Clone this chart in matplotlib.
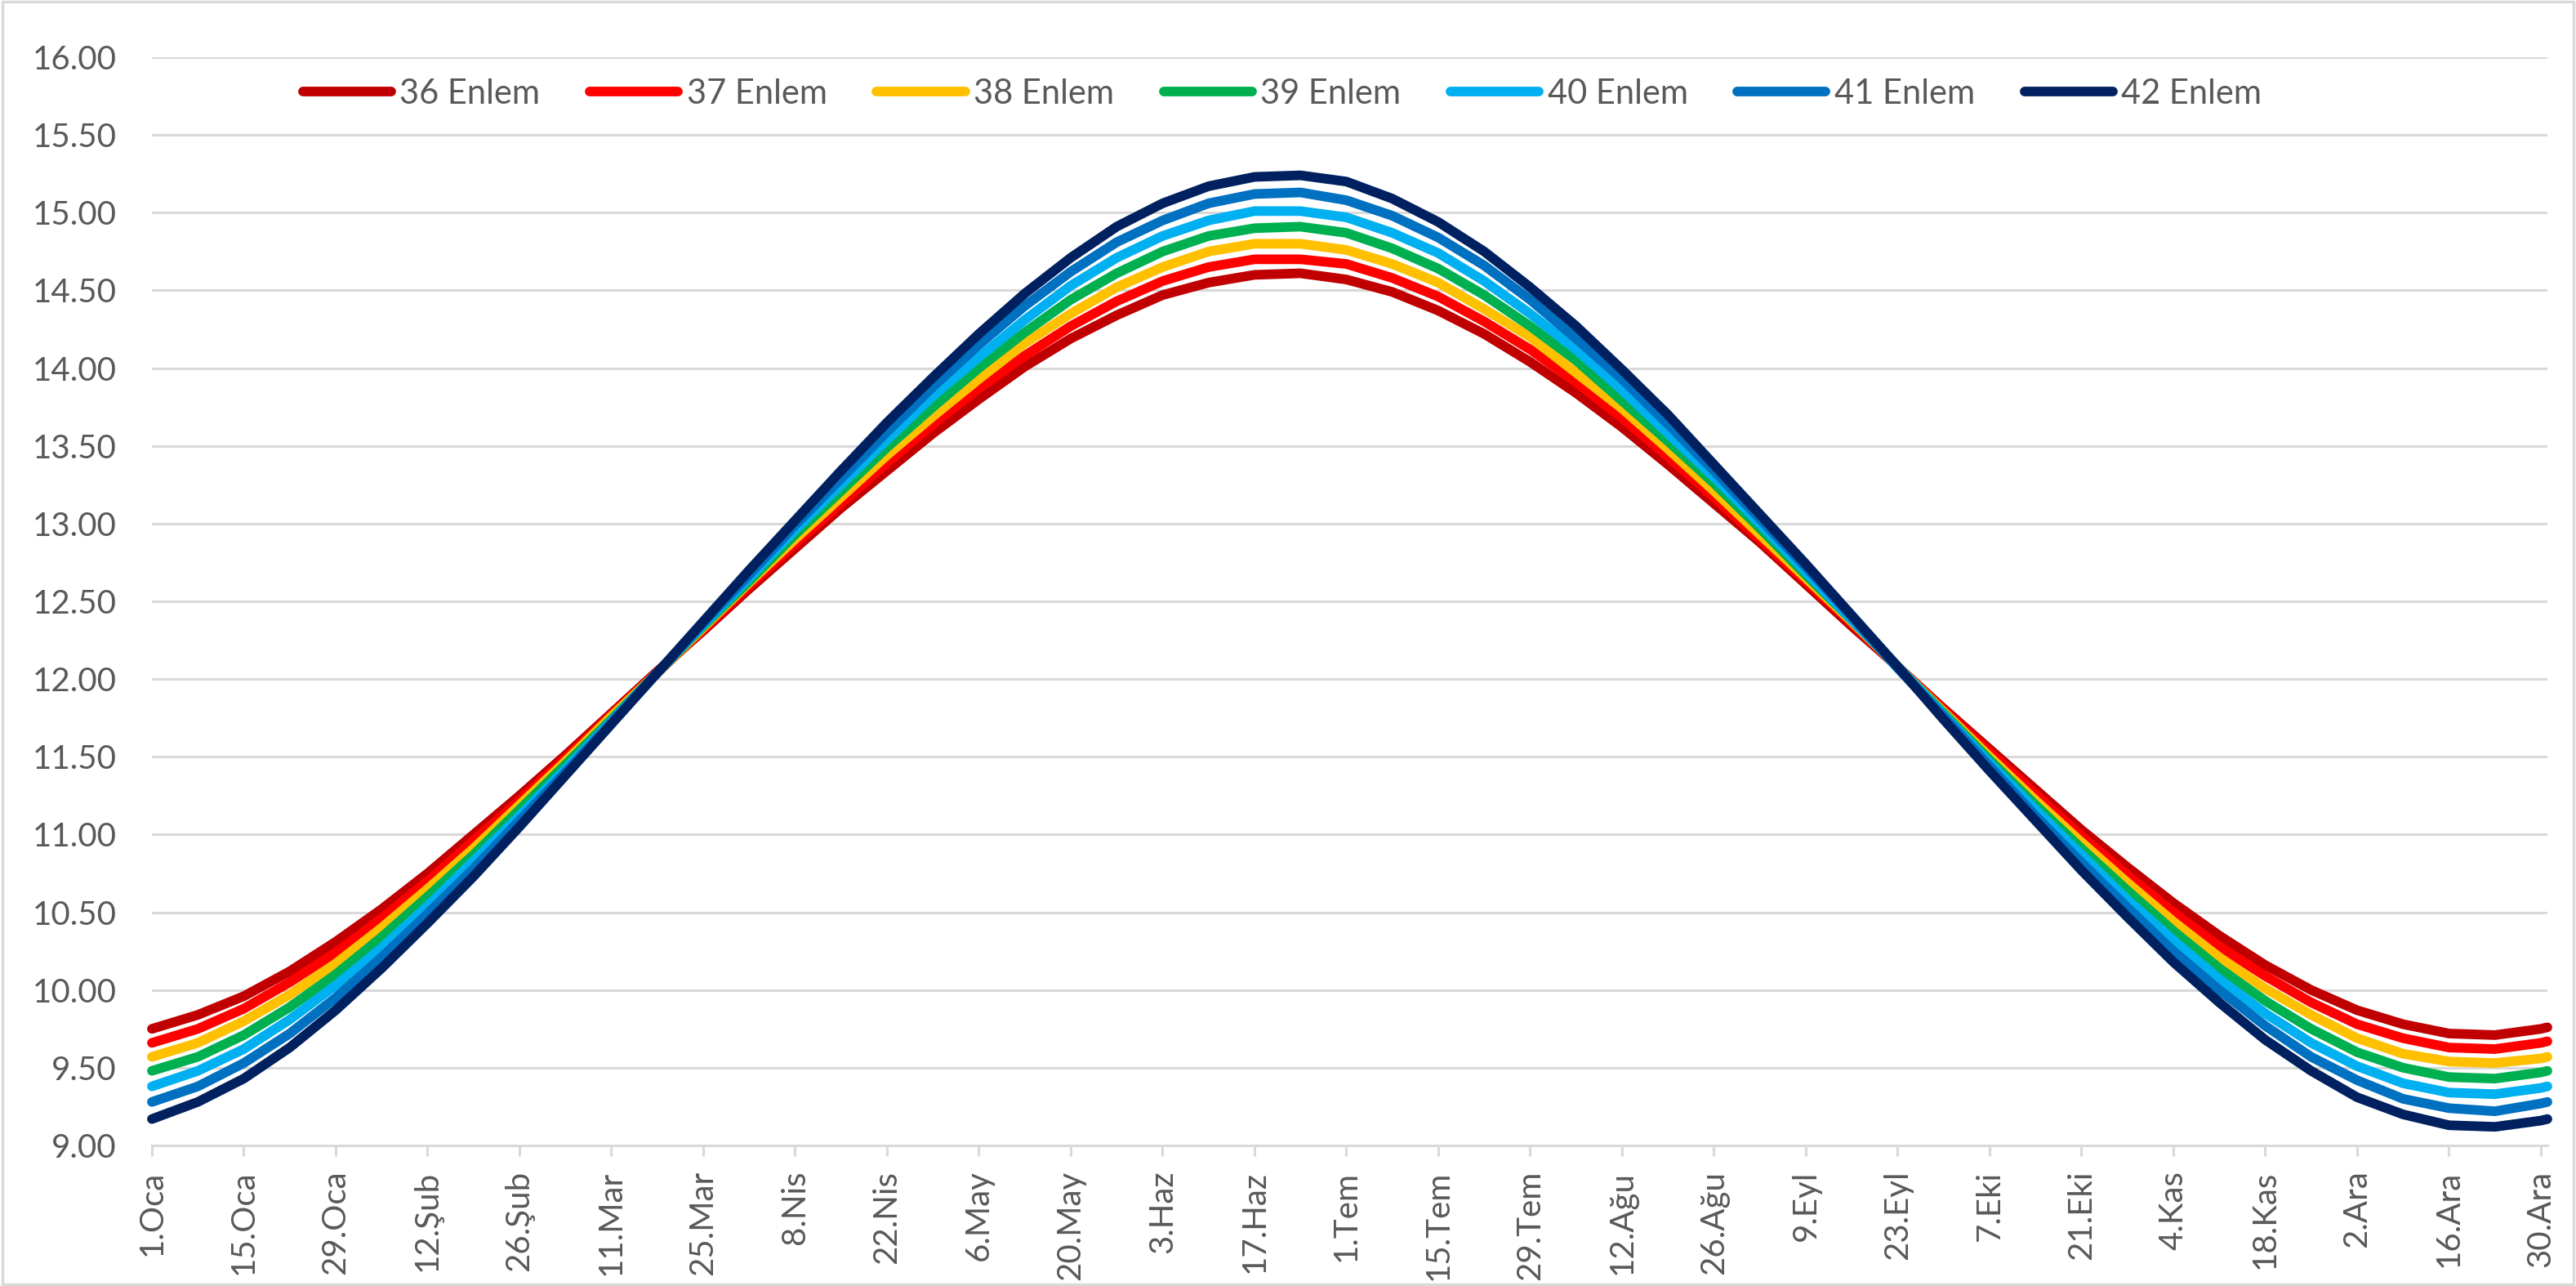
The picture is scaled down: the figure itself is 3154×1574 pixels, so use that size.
import matplotlib
matplotlib.use('Agg')
import matplotlib.pyplot as plt
from matplotlib.patches import Rectangle
from matplotlib.ticker import FormatStrFormatter

plt.rcParams['font.family'] = ['Lato', 'DejaVu Sans']

# gün numarası (1 Ocak = 0, artık yıl)
days = [0, 7, 14, 21, 28, 35, 42, 49, 56, 63, 70, 77, 84, 91, 98, 105, 112, 119, 126,
        133, 140, 147, 154, 161, 168, 175, 182, 189, 196, 203, 210, 217, 224, 231, 238,
        245, 252, 259, 266, 273, 280, 287, 294, 301, 308, 315, 322, 329, 336, 343, 350,
        357, 364, 365]

tick_days = [0, 14, 28, 42, 56, 70, 84, 98, 112, 126, 140, 154, 168, 182, 196, 210,
             224, 238, 252, 266, 280, 294, 308, 322, 336, 350, 364]
tick_labels = ['1.Oca', '15.Oca', '29.Oca', '12.Şub', '26.Şub', '11.Mar', '25.Mar',
               '8.Nis', '22.Nis', '6.May', '20.May', '3.Haz', '17.Haz', '1.Tem',
               '15.Tem', '29.Tem', '12.Ağu', '26.Ağu', '9.Eyl', '23.Eyl', '7.Eki',
               '21.Eki', '4.Kas', '18.Kas', '2.Ara', '16.Ara', '30.Ara']

y_ticks = [9.0, 9.5, 10.0, 10.5, 11.0, 11.5, 12.0, 12.5, 13.0, 13.5, 14.0, 14.5,
           15.0, 15.5, 16.0]

# gün uzunluğu (saat)
enlem_36 = [9.75, 9.84, 9.96, 10.12, 10.31, 10.52, 10.75, 11.00, 11.25, 11.51, 11.78,
            12.05, 12.31, 12.58, 12.84, 13.10, 13.34, 13.58, 13.80, 14.01, 14.19, 14.34,
            14.47, 14.55, 14.60, 14.61, 14.57, 14.49, 14.37, 14.22, 14.04, 13.84, 13.62,
            13.38, 13.13, 12.88, 12.61, 12.34, 12.08, 11.81, 11.55, 11.29, 11.03, 10.79,
            10.56, 10.35, 10.16, 10.00, 9.87, 9.78, 9.72, 9.71, 9.75, 9.76]
enlem_37 = [9.66, 9.75, 9.88, 10.05, 10.24, 10.46, 10.70, 10.96, 11.22, 11.49, 11.77,
            12.04, 12.32, 12.60, 12.87, 13.13, 13.39, 13.64, 13.87, 14.08, 14.27, 14.43,
            14.56, 14.65, 14.70, 14.70, 14.67, 14.58, 14.46, 14.30, 14.12, 13.91, 13.68,
            13.43, 13.17, 12.90, 12.63, 12.36, 12.08, 11.80, 11.53, 11.26, 10.99, 10.74,
            10.50, 10.28, 10.09, 9.92, 9.78, 9.69, 9.63, 9.62, 9.66, 9.67]
enlem_38 = [9.57, 9.66, 9.80, 9.97, 10.17, 10.40, 10.65, 10.91, 11.19, 11.47, 11.76,
            12.04, 12.33, 12.62, 12.90, 13.17, 13.44, 13.69, 13.93, 14.16, 14.35, 14.52,
            14.65, 14.75, 14.80, 14.80, 14.76, 14.67, 14.55, 14.38, 14.20, 13.97, 13.74,
            13.48, 13.21, 12.93, 12.65, 12.37, 12.08, 11.79, 11.50, 11.22, 10.95, 10.69,
            10.44, 10.21, 10.01, 9.84, 9.69, 9.59, 9.54, 9.53, 9.56, 9.57]
enlem_39 = [9.48, 9.57, 9.71, 9.89, 10.10, 10.34, 10.60, 10.87, 11.16, 11.45, 11.74,
            12.04, 12.34, 12.63, 12.93, 13.21, 13.49, 13.75, 14.00, 14.23, 14.44, 14.61,
            14.75, 14.85, 14.90, 14.91, 14.87, 14.77, 14.64, 14.47, 14.27, 14.05, 13.79,
            13.53, 13.26, 12.97, 12.67, 12.38, 12.08, 11.78, 11.48, 11.19, 10.91, 10.64,
            10.38, 10.14, 9.93, 9.75, 9.60, 9.50, 9.44, 9.43, 9.47, 9.48]
enlem_40 = [9.38, 9.48, 9.62, 9.81, 10.03, 10.27, 10.54, 10.83, 11.12, 11.42, 11.73,
            12.04, 12.35, 12.65, 12.96, 13.25, 13.54, 13.82, 14.07, 14.31, 14.53, 14.71,
            14.85, 14.95, 15.01, 15.01, 14.97, 14.87, 14.74, 14.56, 14.35, 14.12, 13.86,
            13.58, 13.30, 13.00, 12.69, 12.38, 12.08, 11.77, 11.46, 11.16, 10.87, 10.58,
            10.32, 10.07, 9.85, 9.66, 9.51, 9.40, 9.34, 9.33, 9.37, 9.38]
enlem_41 = [9.28, 9.38, 9.53, 9.72, 9.95, 10.21, 10.49, 10.78, 11.09, 11.40, 11.72,
            12.04, 12.36, 12.67, 12.99, 13.29, 13.59, 13.88, 14.15, 14.40, 14.62, 14.81,
            14.95, 15.06, 15.12, 15.13, 15.08, 14.98, 14.84, 14.66, 14.44, 14.19, 13.93,
            13.64, 13.34, 13.03, 12.72, 12.40, 12.07, 11.76, 11.44, 11.12, 10.82, 10.53,
            10.25, 10.00, 9.77, 9.57, 9.42, 9.30, 9.24, 9.22, 9.27, 9.28]
enlem_42 = [9.17, 9.28, 9.43, 9.63, 9.87, 10.14, 10.43, 10.73, 11.05, 11.38, 11.71,
            12.04, 12.37, 12.70, 13.02, 13.34, 13.65, 13.94, 14.22, 14.48, 14.71, 14.91,
            15.06, 15.17, 15.23, 15.24, 15.20, 15.09, 14.94, 14.75, 14.52, 14.27, 13.99,
            13.70, 13.38, 13.06, 12.74, 12.41, 12.08, 11.74, 11.41, 11.09, 10.77, 10.47,
            10.18, 9.92, 9.68, 9.48, 9.31, 9.20, 9.13, 9.12, 9.16, 9.17]

series = [enlem_36, enlem_37, enlem_38, enlem_39, enlem_40, enlem_41, enlem_42]
names = ['36 Enlem', '37 Enlem', '38 Enlem', '39 Enlem', '40 Enlem', '41 Enlem', '42 Enlem']
colors = ['#C00000', '#FF0000', '#FFC000', '#00B050', '#00B0F0', '#0070C0', '#002060']

text_color = '#595959'
grid_color = '#D9D9D9'

fig = plt.figure(figsize=(31.54, 15.74), dpi=100)
ax = fig.add_axes([186 / 3154, 1 - 1402 / 1574, 2933 / 3154, 1332 / 1574])

for vals, name, c in zip(series, names, colors):
    ax.plot(days, vals, color=c, lw=8.5, label=name, solid_capstyle='round',
            solid_joinstyle='round', clip_on=False, zorder=3)

ax.set_xlim(0, 365)
ax.set_ylim(9, 16)
ax.set_yticks(y_ticks)
ax.yaxis.set_major_formatter(FormatStrFormatter('%.2f'))
ax.set_xticks(tick_days)
ax.set_xticklabels(tick_labels, rotation=90, va='top', ha='center')

ax.grid(axis='y', color=grid_color, lw=2.2)
ax.set_axisbelow(True)
for s in ['left', 'right', 'top']:
    ax.spines[s].set_visible(False)
ax.spines['bottom'].set_color(grid_color)
ax.spines['bottom'].set_linewidth(2.2)
ax.tick_params(axis='y', length=0, pad=31, labelsize=29, labelcolor=text_color)
ax.tick_params(axis='x', length=9, width=2.2, color=grid_color, pad=13,
               labelsize=29, labelcolor=text_color)

fig.legend(loc='center', bbox_to_anchor=(0.4978, 1 - 115 / 1574), ncol=7, frameon=False,
           fontsize=30, handlelength=2.6, handletextpad=0.25, columnspacing=1.45,
           labelcolor=text_color)

# grafik alanı çerçevesi
fig.add_artist(Rectangle((0.0008, 0.0012), 0.9984, 0.9976, transform=fig.transFigure,
                         fill=False, edgecolor=grid_color, lw=2.5))

fig.savefig('out.png', dpi=100)
